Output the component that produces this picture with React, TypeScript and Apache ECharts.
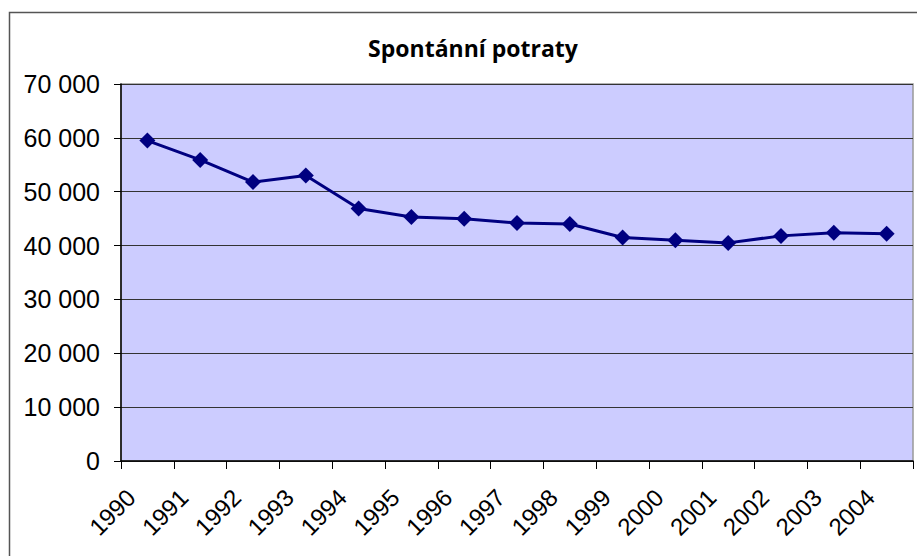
import React, { useEffect, useRef } from "react";
import * as echarts from "echarts";

const titleText = "Spontánní potraty";
const years = ["1990", "1991", "1992", "1993", "1994", "1995", "1996", "1997", "1998", "1999", "2000", "2001", "2002", "2003", "2004"];
const abortions = [59500, 55900, 51800, 53000, 46900, 45300, 45000, 44200, 44000, 41500, 41000, 40500, 41800, 42400, 42200];
const yMin = 0;
const yMax = 70000;
const yStep = 10000;

const fmt = (v: number) => {
  const s = String(Math.round(v));
  return s.replace(/\B(?=(\d{3})+(?!\d))/g, " ");
};

export default function App() {
  const ref = useRef<HTMLDivElement>(null);
  useEffect(() => {
    if (!ref.current) return;
    const chart = echarts.init(ref.current, null, { renderer: "svg" });
    chart.setOption({
      animation: false,
      backgroundColor: "#ffffff",
      title: {
        text: titleText,
        left: 468,
        top: 31,
        textAlign: "center",
        textStyle: {
          fontFamily: "Open Sans",
          fontWeight: "bold",
          fontSize: 23,
          color: "#000000",
        },
      },
      graphic: [
        {
          type: "rect",
          shape: { x: 9.5, y: 12.5, width: 930, height: 560 },
          style: { fill: "none", stroke: "#555555", lineWidth: 1.5 },
          z: 100,
          silent: true,
        },
      ],
      grid: {
        left: 121,
        top: 84,
        width: 792,
        height: 377,
        show: true,
        backgroundColor: "#CCCCFF",
        borderColor: "#999999",
        borderWidth: 1.5,
      },
      xAxis: {
        type: "category",
        data: years,
        boundaryGap: true,
        axisLine: { show: true, lineStyle: { color: "#000000", width: 1.5 } },
        axisTick: { show: true, alignWithLabel: false, length: 8, lineStyle: { color: "#000000", width: 1 } },
        axisLabel: {
          interval: 0,
          rotate: 45,
          margin: 16,
          padding: [0, 23, 0, 0],
          fontFamily: "Liberation Sans",
          fontSize: 24,
          color: "#000000",
        },
        splitLine: { show: false },
      },
      yAxis: {
        type: "value",
        min: yMin,
        max: yMax,
        interval: yStep,
        axisLine: { show: true, lineStyle: { color: "#000000", width: 1.5 } },
        axisTick: { show: true, length: 7, lineStyle: { color: "#000000", width: 1 } },
        axisLabel: {
          margin: 21,
          fontFamily: "Liberation Sans",
          fontSize: 25,
          color: "#000000",
          formatter: (v: number) => fmt(v),
        },
        splitLine: { show: true, lineStyle: { color: "#333333", width: 1 } },
      },
      series: [
        {
          type: "line",
          data: abortions,
          symbol: "diamond",
          symbolSize: 16,
          lineStyle: { color: "#000080", width: 3 },
          itemStyle: { color: "#000080" },
        },
      ],
    });
    return () => chart.dispose();
  }, []);
  return (
    <div
      ref={ref}
      style={{ position: "absolute", left: 0, top: 0, width: 917, height: 556 }}
    />
  );
}
